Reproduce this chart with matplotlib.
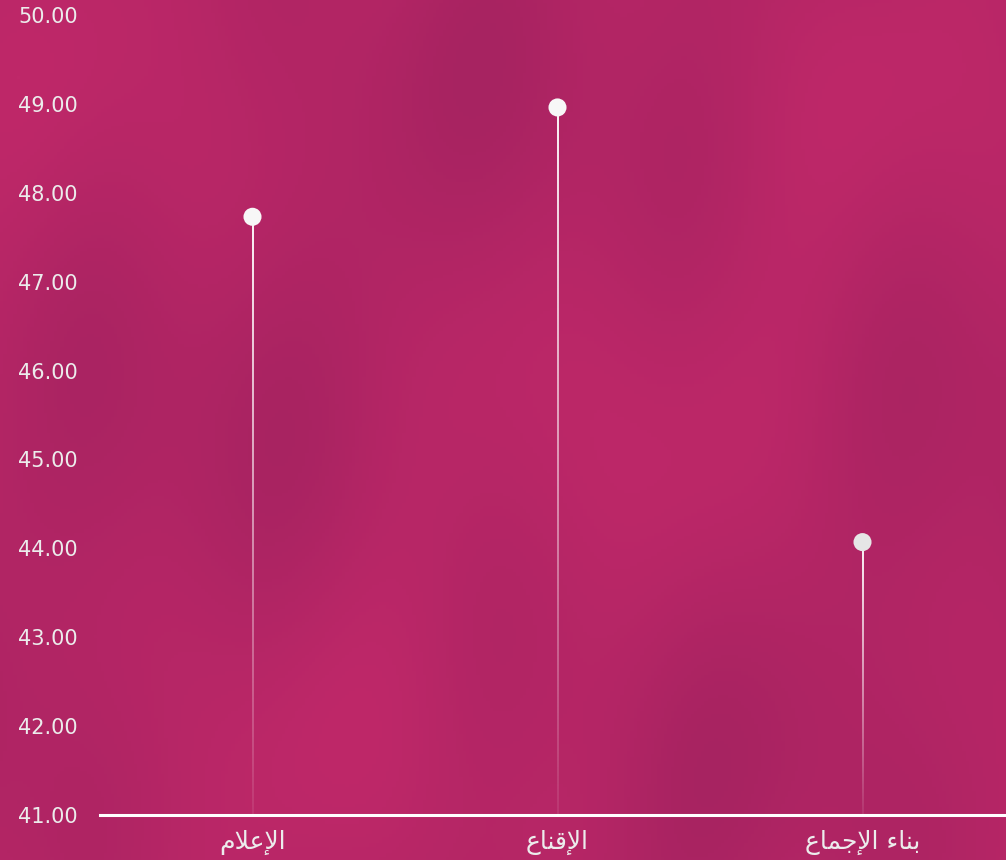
import matplotlib
matplotlib.use('Agg')
import matplotlib.pyplot as plt
from matplotlib.colors import to_rgb
import numpy as np

# categories (Arabic, pre-shaped into presentation forms, visual order)
categories = ['الإعلام', 'الإقناع', 'بناء الإجماع']
shaped_labels = [
    '\uFEE1\uFEFC\uFECB\uFEF9\uFE8D',
    '\uFEC9\uFE8E\uFEE8\uFED7\uFEF9\uFE8D',
    '\uFEC9\uFE8E\uFEE4\uFE9F\uFEF9\uFE8D \uFE80\uFE8E\uFEE8\uFE91',
]
values = [47.73, 48.96, 44.07]
y_ticks = [41, 42, 43, 44, 45, 46, 47, 48, 49, 50]

bg = '#b72667'
text_col = '#ececec'

W, H = 1006, 860
fig = plt.figure(figsize=(W / 100, H / 100), dpi=100)
fig.patch.set_facecolor(bg)

# soft crumpled-paper shading behind the chart
bax = fig.add_axes([0, 0, 1, 1], zorder=0)
bax.axis('off')
gx, gy = np.meshgrid(np.linspace(0, 1, 300), np.linspace(0, 1, 260))
u = gx * 0.8 + gy * 0.6
v = gx * 0.6 - gy * 0.8
field = (np.sin(u * 9.0 + 0.7) * 0.5 + np.sin(v * 13.0 + 1.9) * 0.3
         + np.sin(u * 23.0 + v * 7.0) * 0.2 + np.sin(gx * 31.0 + 2.2) * 0.15)
field = (field - field.min()) / (field.max() - field.min())
light = np.array(to_rgb('#bf2869'))
dark = np.array(to_rgb('#a72361'))
img = dark + (light - dark) * field[..., None]
bax.imshow(img, extent=[0, 1, 0, 1], aspect='auto', origin='upper')
bax.set_xlim(0, 1)
bax.set_ylim(0, 1)

ax = fig.add_axes([100 / W, (H - 815) / H, 906 / W, 800 / H], zorder=1)
ax.set_facecolor('none')

x = np.arange(len(values))
half = 1.0 / 305  # about 2 px wide stem
grad = np.ones((200, 1, 4))
grad[..., 3] = np.linspace(0.95, 0.08, 200)[:, None]
for xi, val in zip(x, values):
    ax.imshow(grad, extent=[xi - half, xi + half, 41, val], aspect='auto',
              origin='upper', interpolation='bilinear', zorder=2)

ax.scatter(x, values, s=13 ** 2, color=['#f7f7f7', '#f7f7f7', '#e6e6e6'],
           edgecolors='none', zorder=3, clip_on=False)

ax.set_xlim(-0.5, -0.5 + 906 / 305)
ax.set_ylim(41, 50)

ax.set_yticks(y_ticks)
ax.set_yticklabels(['%.2f' % t for t in y_ticks], fontfamily='DejaVu Sans',
                   fontsize=15, color=text_col)
ax.set_xticks(x)
ax.set_xticklabels(shaped_labels, fontfamily='DejaVu Sans', fontsize=18,
                   color=text_col)
ax.tick_params(axis='y', length=0, pad=16)
ax.tick_params(axis='x', length=0, pad=11)

for s in ['top', 'right', 'left']:
    ax.spines[s].set_visible(False)
ax.spines['bottom'].set_color('white')
ax.spines['bottom'].set_linewidth(2.2)
ax.spines['bottom'].set_zorder(4)

fig.savefig('out.png', dpi=100, facecolor=bg)
